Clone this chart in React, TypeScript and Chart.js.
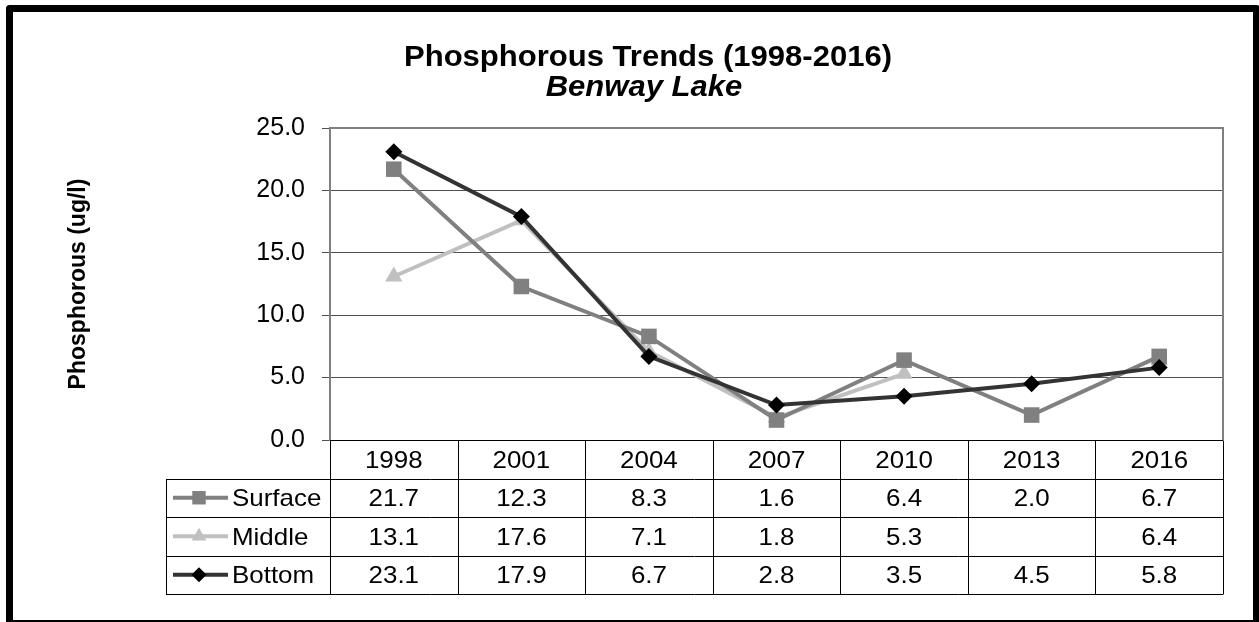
import React, { useEffect, useRef } from 'react';
import { Chart, registerables } from 'chart.js';

Chart.register(...registerables);

// ---- data ----
const categories = ['1998', '2001', '2004', '2007', '2010', '2013', '2016'];
const surfaceValues: (number | null)[] = [21.7, 12.3, 8.3, 1.6, 6.4, 2.0, 6.7];
const middleValues: (number | null)[] = [13.1, 17.6, 7.1, 1.8, 5.3, null, 6.4];
const bottomValues: (number | null)[] = [23.1, 17.9, 6.7, 2.8, 3.5, 4.5, 5.8];
const seriesNames = ['Surface', 'Middle', 'Bottom'];
const yMin = 0;
const yMax = 25;
const yStep = 5;
const titleText = 'Phosphorous Trends (1998-2016)';
const subtitleText = 'Benway Lake';
const yAxisLabel = 'Phosphorous (ug/l)';

// ---- styles ----
const FONT = '"Liberation Sans", Arial, Helvetica, sans-serif';
const seriesStyles = [
  { line: '#808080', fill: '#808080', shape: 'rect', radius: 11, order: 1 },
  { line: '#c0c0c0', fill: '#c0c0c0', shape: 'triangle', radius: 10, order: 2 },
  { line: '#333333', fill: '#000000', shape: 'rectRot', radius: 8.5, order: 0 },
];
const seriesValues = [surfaceValues, middleValues, bottomValues];

function drawMarker(ctx: CanvasRenderingContext2D, shape: string, cx: number, cy: number, r: number, color: string) {
  ctx.save();
  ctx.fillStyle = color;
  ctx.beginPath();
  if (shape === 'rect') {
    const s = r * Math.SQRT1_2;
    ctx.rect(cx - s, cy - s, 2 * s, 2 * s);
  } else if (shape === 'triangle') {
    ctx.moveTo(cx, cy - r);
    ctx.lineTo(cx + r * 0.866, cy + r * 0.5);
    ctx.lineTo(cx - r * 0.866, cy + r * 0.5);
    ctx.closePath();
  } else {
    ctx.moveTo(cx, cy - r);
    ctx.lineTo(cx + r, cy);
    ctx.lineTo(cx, cy + r);
    ctx.lineTo(cx - r, cy);
    ctx.closePath();
  }
  ctx.fill();
  ctx.restore();
}

function stretchText(ctx: CanvasRenderingContext2D, text: string, x: number, y: number, align: CanvasTextAlign, sx: number) {
  ctx.save();
  ctx.translate(x, y);
  ctx.scale(sx, 1);
  ctx.textAlign = align;
  ctx.fillText(text, 0, 0);
  ctx.restore();
}

const decorPlugin = {
  id: 'decor',
  beforeDraw(chart: any) {
    const ctx = chart.ctx as CanvasRenderingContext2D;
    ctx.save();
    ctx.fillStyle = '#ffffff';
    ctx.fillRect(0, 0, chart.width, chart.height);
    ctx.restore();
  },
  beforeDatasetsDraw(chart: any) {
    const ctx = chart.ctx as CanvasRenderingContext2D;
    const { left, top, right, bottom } = chart.chartArea;
    ctx.save();
    ctx.strokeStyle = '#808080';
    ctx.lineWidth = 2;
    ctx.beginPath();
    ctx.moveTo(left, top);
    ctx.lineTo(right, top);
    ctx.lineTo(right, bottom);
    ctx.stroke();
    ctx.restore();
  },
  afterDraw(chart: any) {
    const ctx = chart.ctx as CanvasRenderingContext2D;
    const { left, right, bottom } = chart.chartArea;
    const n = categories.length;
    const colW = (right - left) / n;
    const rowH = 38.5;
    const legendLeft = 166;
    const rows = [bottom, bottom + rowH, bottom + 2 * rowH, bottom + 3 * rowH, bottom + 4 * rowH];
    const crisp = (v: number) => Math.round(v) + 0.5;

    ctx.save();
    // table lines
    ctx.strokeStyle = '#000000';
    ctx.lineWidth = 1;
    ctx.beginPath();
    ctx.moveTo(left, crisp(rows[0]));
    ctx.lineTo(right, crisp(rows[0]));
    for (let i = 1; i < rows.length; i++) {
      ctx.moveTo(legendLeft, crisp(rows[i]));
      ctx.lineTo(right, crisp(rows[i]));
    }
    ctx.moveTo(crisp(legendLeft), crisp(rows[1]));
    ctx.lineTo(crisp(legendLeft), crisp(rows[4]));
    for (let k = 0; k <= n; k++) {
      const x = crisp(left + k * colW);
      ctx.moveTo(x, crisp(rows[0]));
      ctx.lineTo(x, crisp(rows[4]));
    }
    ctx.stroke();

    // header text
    const tsize = 24;
    const sx = 1.08;
    ctx.font = `${tsize}px ${FONT}`;
    ctx.fillStyle = '#000000';
    ctx.textBaseline = 'alphabetic';
    const baseOff = tsize * 0.36;
    categories.forEach((c, i) => {
      const cx = chart.scales.x.getPixelForValue(i);
      stretchText(ctx, c, cx, (rows[0] + rows[1]) / 2 + baseOff, 'center', sx);
    });
    // series rows
    seriesValues.forEach((vals, s) => {
      const cy = (rows[s + 1] + rows[s + 2]) / 2;
      vals.forEach((v, i) => {
        if (v === null || v === undefined) return;
        const cx = chart.scales.x.getPixelForValue(i);
        stretchText(ctx, v.toFixed(1), cx, cy + baseOff, 'center', sx);
      });
      // legend key
      const st = seriesStyles[s];
      ctx.save();
      ctx.strokeStyle = st.line;
      ctx.lineWidth = 4;
      ctx.beginPath();
      ctx.moveTo(173, cy);
      ctx.lineTo(228, cy);
      ctx.stroke();
      ctx.restore();
      drawMarker(ctx, st.shape, 199, cy, st.shape === 'rect' ? 9.5 : st.shape === 'triangle' ? 8.5 : 7.5, st.fill);
      stretchText(ctx, seriesNames[s], 232, cy + baseOff, 'left', sx);
    });

    // titles
    ctx.font = `bold 29px ${FONT}`;
    stretchText(ctx, titleText, 648, 66, 'center', 1.07);
    ctx.font = `italic bold 29px ${FONT}`;
    stretchText(ctx, subtitleText, 644, 96, 'center', 1.07);

    // y axis title
    ctx.save();
    ctx.translate(85, (chart.chartArea.top + chart.chartArea.bottom) / 2);
    ctx.rotate(-Math.PI / 2);
    ctx.font = `bold 23px ${FONT}`;
    ctx.textAlign = 'center';
    ctx.fillText(yAxisLabel, 0, 0);
    ctx.restore();

    // outer border
    ctx.strokeStyle = '#000000';
    ctx.lineWidth = 7;
    ctx.lineJoin = 'round';
    ctx.strokeRect(9.5, 8.5, 1247, 615);
    ctx.restore();
  },
};

export default function App() {
  const ref = useRef<HTMLCanvasElement>(null);
  useEffect(() => {
    if (!ref.current) return;
    const chart = new Chart(ref.current, {
      type: 'line',
      data: {
        labels: categories,
        datasets: seriesValues.map((vals, s) => ({
          label: seriesNames[s],
          data: vals,
          borderColor: seriesStyles[s].line,
          backgroundColor: seriesStyles[s].fill,
          borderWidth: 4,
          tension: 0,
          spanGaps: false,
          pointStyle: seriesStyles[s].shape as any,
          pointRadius: seriesStyles[s].radius,
          pointHoverRadius: seriesStyles[s].radius,
          pointBackgroundColor: seriesStyles[s].fill,
          pointBorderColor: seriesStyles[s].fill,
          pointBorderWidth: 0,
          order: seriesStyles[s].order,
          fill: false,
        })),
      },
      options: {
        animation: false,
        responsive: false,
        devicePixelRatio: 1,
        events: [],
        layout: { padding: { left: 0, top: 128, right: 36, bottom: 182 } },
        plugins: {
          legend: { display: false },
          title: { display: false },
          tooltip: { enabled: false },
        },
        scales: {
          x: { type: 'category', display: false, offset: true },
          y: {
            min: yMin,
            max: yMax,
            ticks: {
              stepSize: yStep,
              callback: (v: any) => Number(v).toFixed(1),
              font: { family: FONT, size: 25 },
              color: '#000000',
              padding: 17,
            },
            grid: { color: '#505050', lineWidth: 1, tickLength: 8, drawTicks: true },
            border: { display: true, color: '#808080', width: 2 },
            afterFit: (s: any) => {
              s.width = 330;
            },
          },
        },
      },
      plugins: [decorPlugin],
    } as any);
    return () => chart.destroy();
  }, []);
  return (
    <div style={{ position: 'fixed', left: 0, top: 0, width: 1259, height: 622, background: '#fff' }}>
      <canvas ref={ref} width={1259} height={622} style={{ display: 'block', width: 1259, height: 622 }} />
    </div>
  );
}
